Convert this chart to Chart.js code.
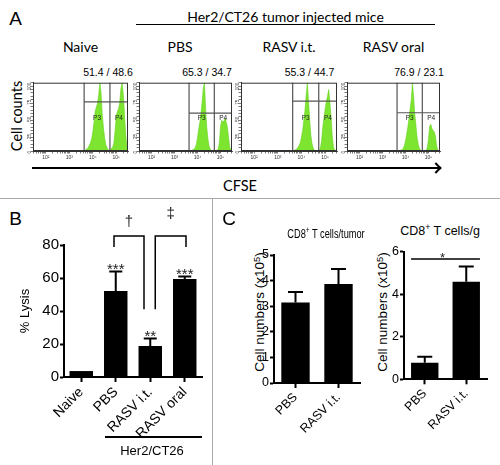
<!DOCTYPE html>
<html><head><meta charset="utf-8">
<script src="https://cdn.jsdelivr.net/npm/chart.js@4.4.0/dist/chart.umd.min.js"></script>
<style>
html,body{margin:0;padding:0;background:#fff;}
#fig{position:relative;width:500px;height:465px;overflow:hidden;background:#fff;}
#fig canvas{position:absolute;}
.t{position:absolute;white-space:nowrap;line-height:1;color:#000;}
.ln{position:absolute;background:#000;}
.sp{font-size:0.7em;vertical-align:0.5em;}
</style></head>
<body><div id="fig"></div>
<script>
// ---------------- DATA ----------------
// Panel A: CFSE histograms (log10 fluorescence bins, relative cell counts)
const histBins = [3.60,3.65,3.70,3.75,3.80,3.85,3.90,3.95,4.00,4.05,4.10,4.15,4.20,4.25,4.30,4.35,4.40,4.45,4.50,4.55,4.60,4.65,4.70,4.75,4.80,4.85,4.90,4.95,5.00,5.05,5.10,5.15,5.20,5.25,5.30,5.35,5.40,5.45,5.50];
const naiveCounts    = [0,1,2,3,5,8,12,18,28,42,58,64,70,82,100,86,55,35,20,10,5,2,1,2,4,6,12,30,52,58,62,72,92,100,82,55,25,6,0];
const pbsCounts      = [0,0,1,1,2,3,5,10,20,32,42,55,72,92,100,62,35,18,7,3,1,0,0,0,0,1,3,12,35,45,42,44,48,42,35,20,6,1,0];
const rasvItCounts   = [0,0,1,2,3,5,8,12,20,30,45,60,82,100,72,45,22,10,4,1,0,0,0,1,4,15,35,48,62,72,80,90,72,50,22,6,1,0,0];
const rasvOralCounts = [0,0,0,1,1,2,4,8,15,25,35,48,62,75,100,80,55,38,20,10,4,1,0,0,0,0,1,5,18,36,39,33,30,28,22,8,2,0,0];
const histGroups     = ['Naive','PBS','RASV i.t.','RASV oral'];
const histPercents   = ['51.4 / 48.6','65.3 / 34.7','55.3 / 44.7','76.9 / 23.1'];
const gateBounds     = [3.63, 4.73];
const gateLevels     = [72, 55.5, 73, 56];
const gateNames      = ['P3','P4'];
const histDecades    = [2,3,4,5];
const histDecadeLabels = ['10\u00B2','10\u00B3','10\u2074','10\u2075'];

// Panel B: % lysis
const lysisCategories = ['Naive','PBS','RASV i.t.','RASV oral'];
const lysisValues     = [3.6, 52.1, 18.8, 59.4];
const lysisErrors     = [0, 11.8, 4.5, 1.5];
const lysisStars      = ['', '***', '**', '***'];
const lysisBrackets   = [
  {from:'PBS', to:'RASV i.t.', top:85.5, legs:[78.8, 41], mark:'\u2020'},
  {from:'RASV i.t.', to:'RASV oral', top:85.5, legs:[41, 78.8], mark:'\u2021'}
];

// Panel C: CD8+ T cells
const cd8Categories   = ['PBS','RASV i.t.'];
const cd8TumorValues  = [3.14, 3.87];
const cd8TumorErrors  = [0.41, 0.58];
const cd8GramValues   = [0.78, 4.58];
const cd8GramErrors   = [0.28, 0.71];
const cd8GramSig      = {from:'PBS', to:'RASV i.t.', level:5.65, mark:'*'};

// ---------------- HELPERS ----------------
const fig = document.getElementById('fig');
const F  = '"Liberation Sans", Arial, sans-serif';
const FA = 'Lato, "Open Sans", sans-serif';

function txt(html, x, y, font, o = {}) {
  const d = document.createElement('div');
  d.className = 't';
  d.innerHTML = html;
  d.style.left = x + 'px'; d.style.top = y + 'px'; d.style.font = font;
  let tr = 'translate(-50%,-50%)';
  if (o.rot) tr += ' rotate(' + o.rot + 'deg)';
  if (o.sx) tr += ' scaleX(' + o.sx + ')';
  d.style.transform = tr;
  if (o.color) d.style.color = o.color;
  fig.appendChild(d);
}
function line(x1, y1, x2, y2, w, color) {
  const d = document.createElement('div');
  d.className = 'ln';
  if (y1 === y2) { d.style.left = x1 + 'px'; d.style.top = (y1 - w / 2) + 'px'; d.style.width = (x2 - x1) + 'px'; d.style.height = w + 'px'; }
  else { d.style.left = (x1 - w / 2) + 'px'; d.style.top = y1 + 'px'; d.style.width = w + 'px'; d.style.height = (y2 - y1) + 'px'; }
  if (color) d.style.background = color;
  fig.appendChild(d);
}
function makeCanvas(l, t, w, h) {
  const c = document.createElement('canvas');
  c.width = w; c.height = h;
  c.style.left = l + 'px'; c.style.top = t + 'px';
  c.style.width = w + 'px'; c.style.height = h + 'px';
  fig.appendChild(c);
  return c;
}

// ---------------- PLUGINS ----------------
const flowGates = {
  id: 'flowGates',
  afterDatasetsDraw(chart, args, o) {
    const {ctx, chartArea: a, scales: {x, y}} = chart;
    ctx.save();
    ctx.strokeStyle = '#555'; ctx.lineWidth = 1.2;
    const xl = x.getPixelForValue(o.bounds[0]), xh = x.getPixelForValue(o.bounds[1]);
    const yl = y.getPixelForValue(o.level);
    ctx.beginPath();
    ctx.moveTo(xl, a.top); ctx.lineTo(xl, a.bottom);
    ctx.moveTo(xh, a.top); ctx.lineTo(xh, a.bottom);
    ctx.moveTo(xl, yl); ctx.lineTo(a.right, yl);
    ctx.stroke();
    ctx.strokeStyle = '#333'; ctx.lineWidth = 1;
    ctx.strokeRect(a.left + 0.5, a.top + 0.5, a.width - 1, a.height - 1);
    ctx.fillStyle = '#222'; ctx.font = '6.5px ' + F; ctx.textAlign = 'center'; ctx.textBaseline = 'middle';
    const ly = y.getPixelForValue(48.5);
    ctx.fillText(o.names[0], x.getPixelForValue((o.bounds[0] + o.bounds[1]) / 2), ly);
    ctx.fillText(o.names[1], x.getPixelForValue((o.bounds[1] + x.max) / 2), ly);
    ctx.restore();
  }
};

const barExtras = {
  id: 'barExtras',
  afterDatasetsDraw(chart, args, o) {
    const {ctx, scales: {x, y}} = chart;
    const meta = chart.getDatasetMeta(0);
    const vals = chart.data.datasets[0].data;
    const labels = chart.data.labels;
    ctx.save();
    ctx.strokeStyle = '#000'; ctx.fillStyle = '#000'; ctx.lineWidth = 2;
    (o.errors || []).forEach((e, i) => {
      if (!e) return;
      const bx = meta.data[i].x;
      const top = y.getPixelForValue(vals[i] + e), base = y.getPixelForValue(vals[i]);
      ctx.beginPath();
      ctx.moveTo(bx, base); ctx.lineTo(bx, top);
      ctx.moveTo(bx - o.cap / 2, top); ctx.lineTo(bx + o.cap / 2, top);
      ctx.stroke();
      if (o.stars && o.stars[i]) {
        ctx.fillStyle = '#222';
        ctx.font = o.starFont + 'px ' + F; ctx.textAlign = 'center'; ctx.textBaseline = 'alphabetic';
        ctx.fillText(o.stars[i], bx, top + o.starOffset);
      }
    });
    (o.brackets || []).forEach((b, k) => {
      const off = o.bracketOffsets[k];
      const x1 = meta.data[labels.indexOf(b.from)].x + off[0];
      const x2 = meta.data[labels.indexOf(b.to)].x + off[1];
      const yt = y.getPixelForValue(b.top);
      ctx.lineWidth = 1.5; ctx.strokeStyle = '#000';
      ctx.beginPath();
      ctx.moveTo(x1, y.getPixelForValue(b.legs[0])); ctx.lineTo(x1, yt); ctx.lineTo(x2, yt); ctx.lineTo(x2, y.getPixelForValue(b.legs[1]));
      ctx.stroke();
      ctx.fillStyle = '#222'; ctx.font = '15px ' + F; ctx.textAlign = 'center'; ctx.textBaseline = 'middle';
      ctx.fillText(b.mark, (x1 + x2) / 2, yt - o.markRise[k]);
    });
    if (o.sig) {
      const s = o.sig;
      const b1 = meta.data[labels.indexOf(s.from)], b2 = meta.data[labels.indexOf(s.to)];
      const x1 = b1.x - b1.width / 2, x2 = b2.x + b2.width / 2;
      const ys = y.getPixelForValue(s.level);
      ctx.lineWidth = 1.5; ctx.strokeStyle = '#000';
      ctx.beginPath(); ctx.moveTo(x1, ys); ctx.lineTo(x2, ys); ctx.stroke();
      ctx.fillStyle = '#222'; ctx.font = '13px ' + F; ctx.textAlign = 'center'; ctx.textBaseline = 'alphabetic';
      ctx.fillText(s.mark, (x1 + x2) / 2 - 3, ys + 3);
    }
    ctx.restore();
  }
};

// ---------------- PANEL A ----------------
txt('A', 15.5, 19, '19px ' + F);
txt('Her2/CT26 tumor injected mice', 285.5, 16, '14px ' + FA);
line(136, 24.5, 435, 24.5, 1.3);
const groupX = [80.5, 180, 289, 393.5];
const pctX = [108, 207, 309.5, 419];
histGroups.forEach((g, i) => txt(g, groupX[i], 46, '14px ' + FA));
histPercents.forEach((p, i) => txt(p, pctX[i], 72, '10.5px ' + F));
txt('Cell counts', 16, 116, '14.5px ' + FA, {rot: -90});
txt('CFSE', 240, 184.5, '14.5px ' + FA);
line(32, 168, 440, 168, 2);
(function () {
  const d = document.createElement('div');
  d.style.cssText = 'position:absolute;left:432px;top:164px;width:8px;height:8px;box-sizing:border-box;border-top:2.5px solid #000;border-right:2.5px solid #000;transform:rotate(45deg);';
  fig.appendChild(d);
})();

const histSamples = [naiveCounts, pbsCounts, rasvItCounts, rasvOralCounts];
const boxLefts = [33, 139, 241, 347], boxWidths = [95, 93, 96, 93];
histSamples.forEach((counts, i) => {
  const cv = makeCanvas(boxLefts[i] - 13, 79, boxWidths[i] + 16, 86);
  new Chart(cv, {
    type: 'line',
    data: {datasets: [{
      data: histBins.map((b, k) => ({x: b, y: counts[k]})),
      fill: 'origin', backgroundColor: 'rgb(125,228,48)', borderColor: 'rgb(100,212,30)',
      borderWidth: 0.6, pointRadius: 0, tension: 0
    }]},
    options: {
      responsive: false, animation: false, devicePixelRatio: 1,
      layout: {padding: {top: 3, right: 3, left: 0, bottom: 0}},
      plugins: {legend: {display: false}, tooltip: {enabled: false},
        flowGates: {bounds: gateBounds, level: gateLevels[i], names: gateNames}},
      scales: {
        x: {
          type: 'linear', min: 1.45, max: 5.5,
          afterFit: s => { s.height = 14; },
          afterBuildTicks: s => {
            const t = [];
            for (let d = 1; d <= 5; d++) for (let k = 1; k <= 9; k++) {
              const v = d + Math.log10(k);
              if (v >= s.min && v <= s.max) t.push({value: v});
            }
            s.ticks = t;
          },
          ticks: {autoSkip: false, maxRotation: 0, minRotation: 0, font: {size: 5, family: F}, color: '#333', padding: 1,
            callback: v => { const r = Math.round(v); const j = histDecades.indexOf(r); return (Math.abs(v - r) < 1e-9 && j >= 0) ? histDecadeLabels[j] : ''; }},
          grid: {drawOnChartArea: false, tickLength: 2.5, color: '#444', lineWidth: 0.7},
          border: {display: true, color: '#333', width: 1}
        },
        y: {
          min: 0, max: 100,
          afterFit: s => { s.width = 13; },
          afterBuildTicks: s => { const t = []; for (let v = 0; v <= 100; v += 5) t.push({value: v}); s.ticks = t; },
          ticks: {autoSkip: false, minRotation: 90, maxRotation: 90, font: {size: 4.5, family: F}, color: '#333', padding: 1,
            callback: v => (v % 25 === 0 ? String(v) : '')},
          grid: {drawOnChartArea: false, tickLength: 2.5, color: '#444', lineWidth: 0.7},
          border: {display: true, color: '#333', width: 1}
        }
      }
    },
    plugins: [flowGates]
  });
});

// ---------------- DIVIDERS ----------------
line(0, 198, 500, 198, 1, '#aaa');
line(212, 198, 212, 465, 1, '#aaa');

// ---------------- PANEL B ----------------
txt('B', 15.5, 218.5, '19px ' + F);
const cvB = makeCanvas(0, 200, 212, 265);
new Chart(cvB, {
  type: 'bar',
  data: {labels: lysisCategories, datasets: [{data: lysisValues, backgroundColor: '#000', borderWidth: 0, barPercentage: 0.68, categoryPercentage: 1}]},
  options: {
    responsive: false, animation: false, devicePixelRatio: 1,
    layout: {padding: {top: 45, right: 10, left: 0, bottom: 0}},
    plugins: {legend: {display: false}, tooltip: {enabled: false},
      barExtras: {errors: lysisErrors, stars: lysisStars, cap: 13, starFont: 15, starOffset: 2.5,
        brackets: lysisBrackets, bracketOffsets: [[-1.75, -6.25], [5, 1.25]], markRise: [14, 22]}},
    scales: {
      x: {
        afterFit: s => { s.height = 88; },
        grid: {drawOnChartArea: false, offset: false, tickLength: 5, tickColor: '#000', tickWidth: 2},
        border: {color: '#000', width: 2},
        ticks: {font: {family: F, size: 14}, color: '#000', maxRotation: 45, minRotation: 45, padding: 2, autoSkip: false}
      },
      y: {
        min: 0, max: 80,
        afterFit: s => { s.width = 64; },
        ticks: {stepSize: 20, font: {family: F, size: 15}, color: '#000', padding: 1},
        grid: {drawOnChartArea: false, tickLength: 4, tickColor: '#000', tickWidth: 2},
        border: {color: '#000', width: 2},
        title: {display: true, text: '% Lysis', font: {family: F, size: 13}, color: '#000', padding: {top: 18, bottom: 0}}
      }
    }
  },
  plugins: [barExtras]
});
line(105, 437, 202, 437, 1.5);
txt('Her2/CT26', 152, 450, '13px ' + F);

// ---------------- PANEL C ----------------
txt('C', 229, 218.5, '19px ' + F);
txt('CD8<span class="sp">+</span> T cells/tumor', 325.5, 232.5, '12px ' + F, {sx: 0.77});
txt('CD8<span class="sp">+</span> T cells/g', 440, 230, '12.5px ' + F);
txt('Cell numbers (x10<span class="sp">5</span>)', 259, 312, '13.5px ' + F, {rot: -90});
txt('Cell numbers (x10<span class="sp">5</span>)', 382, 312, '13.5px ' + F, {rot: -90});

function cd8Chart(left, values, errors, max, step, padTop, xH, padRight, sig) {
  const cv = makeCanvas(left, 200, 130, 265);
  new Chart(cv, {
    type: 'bar',
    data: {labels: cd8Categories, datasets: [{data: values, backgroundColor: '#000', borderWidth: 0, barPercentage: 0.66, categoryPercentage: 1}]},
    options: {
      responsive: false, animation: false, devicePixelRatio: 1,
      layout: {padding: {top: padTop, right: padRight, left: 0, bottom: 0}},
      plugins: {legend: {display: false}, tooltip: {enabled: false},
        barExtras: {errors: errors, cap: 15, sig: sig}},
      scales: {
        x: {
          afterFit: s => { s.height = xH; },
          grid: {drawOnChartArea: false, offset: false, tickLength: 5, tickColor: '#000', tickWidth: 2},
          border: {color: '#000', width: 2},
          ticks: {font: {family: F, size: 12.5}, color: '#000', maxRotation: 45, minRotation: 45, padding: 2, autoSkip: false}
        },
        y: {
          min: 0, max: max,
          afterFit: s => { s.width = 34; },
          ticks: {stepSize: step, font: {family: F, size: 12.5}, color: '#000', padding: 1},
          grid: {drawOnChartArea: false, tickLength: 4, tickColor: '#000', tickWidth: 2},
          border: {color: '#000', width: 2}
        }
      }
    },
    plugins: [barExtras]
  });
}
cd8Chart(240, cd8TumorValues, cd8TumorErrors, 5, 1, 55, 82, 10, null);
cd8Chart(370, cd8GramValues, cd8GramErrors, 6, 2, 51.5, 85.7, 13, cd8GramSig);
</script>
</body></html>
